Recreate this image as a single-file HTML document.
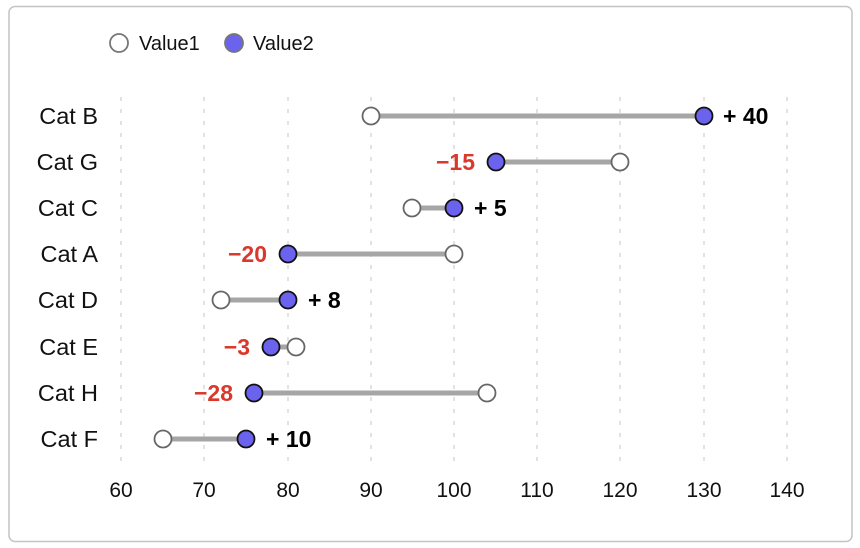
<!DOCTYPE html>
<html><head><style>body{margin:0;background:#fff}svg{display:block}text{font-family:"Liberation Sans",Arial,sans-serif}</style></head><body>
<svg width="860" height="548" xmlns="http://www.w3.org/2000/svg">
<rect x="9" y="6.5" width="843" height="535" rx="6" fill="#fff" stroke="#c4c4c4" stroke-width="1.5"/>
<g stroke="#d8d8d8" stroke-width="1.5" stroke-dasharray="4,8">
<line x1="121" y1="97" x2="121" y2="464"/><line x1="204" y1="97" x2="204" y2="464"/><line x1="288" y1="97" x2="288" y2="464"/><line x1="371" y1="97" x2="371" y2="464"/><line x1="454" y1="97" x2="454" y2="464"/><line x1="537" y1="97" x2="537" y2="464"/><line x1="620" y1="97" x2="620" y2="464"/><line x1="704" y1="97" x2="704" y2="464"/><line x1="787" y1="97" x2="787" y2="464"/>
</g>
<g font-size="21" fill="#111" text-anchor="middle">
<text x="121" y="497">60</text><text x="204" y="497">70</text><text x="288" y="497">80</text><text x="371" y="497">90</text><text x="454" y="497">100</text><text x="537" y="497">110</text><text x="620" y="497">120</text><text x="704" y="497">130</text><text x="787" y="497">140</text>
</g>
<g font-size="23.5" fill="#111" text-anchor="end">
<text x="98" y="124">Cat B</text><text x="98" y="170">Cat G</text><text x="98" y="216">Cat C</text><text x="98" y="262">Cat A</text><text x="98" y="308">Cat D</text><text x="98" y="355">Cat E</text><text x="98" y="401">Cat H</text><text x="98" y="447">Cat F</text>
</g>
<g stroke="#a6a6a6" stroke-width="5">
<line x1="371" y1="116" x2="704" y2="116"/><line x1="620" y1="162" x2="496" y2="162"/><line x1="412" y1="208" x2="454" y2="208"/><line x1="454" y1="254" x2="288" y2="254"/><line x1="221" y1="300" x2="288" y2="300"/><line x1="296" y1="347" x2="271" y2="347"/><line x1="487" y1="393" x2="254" y2="393"/><line x1="163" y1="439" x2="246" y2="439"/>
</g>
<g fill="#fff" stroke="#666" stroke-width="1.8">
<circle cx="371" cy="116" r="8.5"/><circle cx="620" cy="162" r="8.5"/><circle cx="412" cy="208" r="8.5"/><circle cx="454" cy="254" r="8.5"/><circle cx="221" cy="300" r="8.5"/><circle cx="296" cy="347" r="8.5"/><circle cx="487" cy="393" r="8.5"/><circle cx="163" cy="439" r="8.5"/>
</g>
<g fill="#6b63ee" stroke="#111" stroke-width="1.8">
<circle cx="704" cy="116" r="8.5"/><circle cx="496" cy="162" r="8.5"/><circle cx="454" cy="208" r="8.5"/><circle cx="288" cy="254" r="8.5"/><circle cx="288" cy="300" r="8.5"/><circle cx="271" cy="347" r="8.5"/><circle cx="254" cy="393" r="8.5"/><circle cx="246" cy="439" r="8.5"/>
</g>
<g font-size="23" font-weight="bold">
<text x="723" y="124" fill="#000">+ 40</text>
<text x="475" y="170" fill="#d9382c" text-anchor="end">−15</text>
<text x="474" y="216" fill="#000">+ 5</text>
<text x="267" y="262" fill="#d9382c" text-anchor="end">−20</text>
<text x="308" y="308" fill="#000">+ 8</text>
<text x="250" y="355" fill="#d9382c" text-anchor="end">−3</text>
<text x="233" y="401" fill="#d9382c" text-anchor="end">−28</text>
<text x="266" y="447" fill="#000">+ 10</text>
</g>
<circle cx="119" cy="43" r="9" fill="#fff" stroke="#777" stroke-width="1.8"/>
<text x="139" y="50" font-size="20" fill="#111">Value1</text>
<circle cx="234" cy="43" r="9" fill="#6b63ee" stroke="#777" stroke-width="1.8"/>
<text x="253" y="50" font-size="20" fill="#111">Value2</text>
</svg>
</body></html>
